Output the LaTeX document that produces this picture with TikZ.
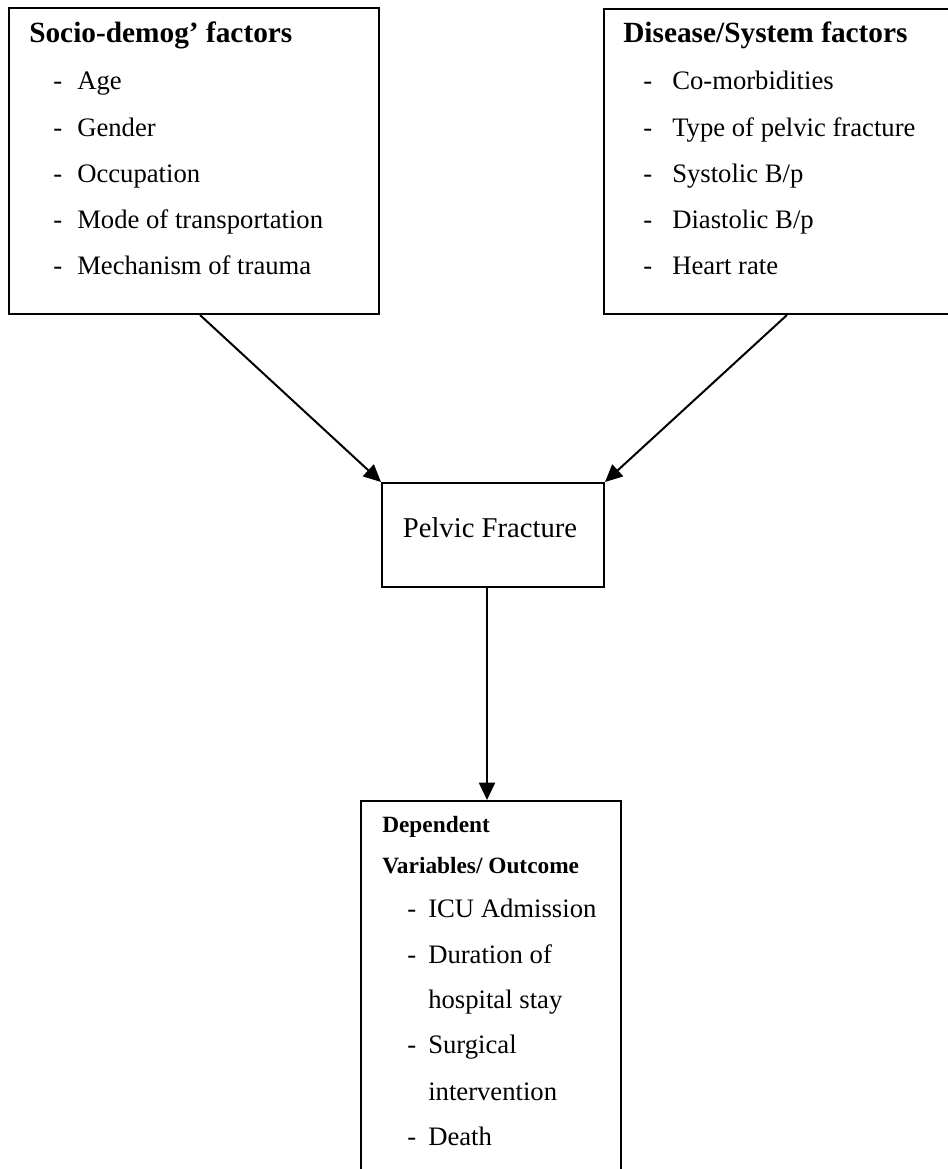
\documentclass[tikz,border=0pt]{standalone}
\usepackage{fontspec}
\setmainfont{Liberation Serif}
\usetikzlibrary{arrows.meta,calc}
\tikzset{
  box/.style={draw=black, line width=1.5pt, rectangle, inner sep=0pt, anchor=north west},
  txt/.style={anchor=base west, inner sep=0pt, font=\fontsize{20}{24}\selectfont},
  head/.style={anchor=base west, inner sep=0pt, font=\fontsize{22}{26}\selectfont\bfseries},
  shead/.style={anchor=base west, inner sep=0pt, font=\fontsize{17.5}{21}\selectfont\bfseries},
  arr/.style={line width=1.5pt, -{Triangle[length=13pt,width=12pt]}},
}
\begin{document}
\begin{tikzpicture}[x=0.75pt,y=-0.75pt]
\useasboundingbox (0,0) rectangle (948,1169);
\clip (0,0) rectangle (948,1169);
% boxes
\node[box, minimum width=277.5pt, minimum height=229.5pt] (soc) at (8,7) {};
\node[box, minimum width=267.75pt, minimum height=228.75pt] (dis) at (603,8) {};
\node[box, minimum width=166.5pt, minimum height=78pt] (pf) at (381,482) {};
\node[box, minimum width=195pt, minimum height=288.75pt] (dv) at (360,800) {};
% left box text
\node[head] (sochead) at (29,43) {Socio-demog’ factors};
\foreach \t [count=\i] in {Age,Gender,Occupation,Mode of transportation,Mechanism of trauma}{
  \pgfmathsetmacro{\yy}{90+46.25*(\i-1)}
  \node[txt] (socd\i) at (53,\yy) {-};
  \node[txt] (soct\i) at (77,\yy) {\t};
}
% right box text
\node[head] (dishead) at (623,43) {Disease/System factors};
\foreach \t [count=\i] in {Co-morbidities,Type of pelvic fracture,Systolic B/p,Diastolic B/p,Heart rate}{
  \pgfmathsetmacro{\yy}{90+46.25*(\i-1)}
  \node[txt] (disd\i) at (643,\yy) {-};
  \node[txt] (dist\i) at (672,\yy) {\t};
}
% pelvic fracture
\node[anchor=base, inner sep=0pt, font=\fontsize{21.5}{26}\selectfont] (pft) at (490,537) {Pelvic Fracture};
% bottom box text
\node[shead] (dvh1) at (382,832) {Dependent};
\node[shead] (dvh2) at (382,873) {Variables/ Outcome};
\node[txt] (dvd1) at (407,917) {-};
\node[txt] (dvt1) at (428,917) {ICU Admission};
\node[txt] (dvd2) at (407,963) {-};
\node[txt] (dvt2) at (428,963) {Duration of};
\node[txt] (dvt2b) at (428,1008) {hospital stay};
\node[txt] (dvd3) at (407,1053) {-};
\node[txt] (dvt3) at (428,1053) {Surgical};
\node[txt] (dvt3b) at (428,1100) {intervention};
\node[txt] (dvd4) at (407,1145) {-};
\node[txt] (dvt4) at (428,1145) {Death};
% connectors
\draw[arr] ([xshift=144pt]soc.south west) -- (pf.north west);
\draw[arr] ([xshift=138pt]dis.south west) -- (pf.north east);
\draw[arr] ([xshift=79.5pt]pf.south west) -- ([xshift=79.5pt]pf.south west |- dv.north);
\end{tikzpicture}
\end{document}
